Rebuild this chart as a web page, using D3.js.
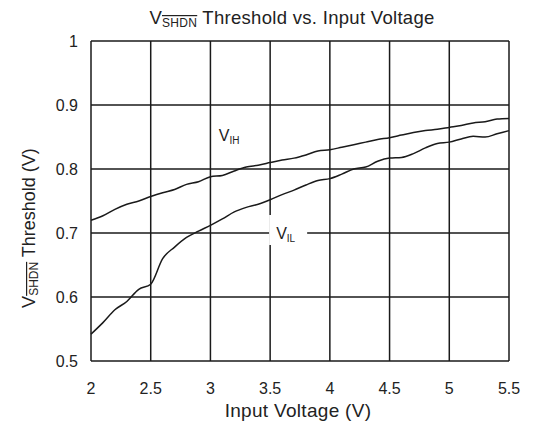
<!DOCTYPE html>
<html>
<head>
<meta charset="utf-8">
<script src="https://cdn.jsdelivr.net/npm/d3@7"></script>
<style>
  body { margin: 0; background: #fff; }
  svg text { font-family: "Liberation Sans", Arial, sans-serif; fill: #222; }
</style>
</head>
<body>
<svg id="chart" width="534" height="426"></svg>
<script>
"use strict";

// input voltage (V)
const voltage = [2.0, 2.1, 2.2, 2.3, 2.4, 2.5, 2.6, 2.7, 2.8, 2.9, 3.0, 3.1, 3.2, 3.3, 3.4, 3.5, 3.6, 3.7,
  3.8, 3.9, 4.0, 4.1, 4.2, 4.3, 4.4, 4.5, 4.6, 4.7, 4.8, 4.9, 5.0, 5.1, 5.2, 5.3, 5.4, 5.5];
// V_IH threshold
const vih = [0.720, 0.727, 0.737, 0.745, 0.750, 0.757, 0.763, 0.768, 0.776, 0.780, 0.788, 0.790,
  0.797, 0.803, 0.806, 0.810, 0.814, 0.817, 0.822, 0.828, 0.830, 0.834, 0.838, 0.842, 0.846, 0.849,
  0.853, 0.857, 0.860, 0.862, 0.865, 0.868, 0.872, 0.874, 0.878, 0.879];
// V_IL threshold
const vil = [0.542, 0.560, 0.580, 0.593, 0.612, 0.620, 0.660, 0.678, 0.693, 0.703, 0.712, 0.722,
  0.733, 0.740, 0.745, 0.752, 0.760, 0.767, 0.775, 0.782, 0.785, 0.792, 0.800, 0.803, 0.812, 0.817,
  0.818, 0.824, 0.833, 0.840, 0.842, 0.847, 0.851, 0.850, 0.855, 0.860];

const xTicks = [2, 2.5, 3, 3.5, 4, 4.5, 5, 5.5];
const yTicks = [0.5, 0.6, 0.7, 0.8, 0.9, 1];

const margin = { left: 91, top: 41, right: 25, bottom: 65 };
const width = 534, height = 426;

const svg = d3.select("#chart");
const x = d3.scaleLinear().domain([2, 5.5]).range([margin.left, width - margin.right]);
const y = d3.scaleLinear().domain([0.5, 1]).range([height - margin.bottom, margin.top]);

// grid
const grid = svg.append("g").attr("stroke", "#1a1a1a").attr("stroke-width", 1.5);
grid.selectAll("line.v").data(xTicks).enter().append("line")
  .attr("x1", d => x(d)).attr("x2", d => x(d))
  .attr("y1", y(0.5)).attr("y2", y(1));
grid.selectAll("line.h").data(yTicks).enter().append("line")
  .attr("y1", d => y(d)).attr("y2", d => y(d))
  .attr("x1", x(2)).attr("x2", x(5.5));

// tick labels
svg.append("g").selectAll("text").data(xTicks).enter().append("text")
  .attr("x", d => x(d)).attr("y", y(0.5) + 33)
  .attr("text-anchor", "middle").attr("font-size", 16)
  .text(d => d);
svg.append("g").selectAll("text").data(yTicks).enter().append("text")
  .attr("x", x(2) - 13).attr("y", d => y(d) + 6)
  .attr("text-anchor", "end").attr("font-size", 16)
  .text(d => d);

// curves
const line = d3.line().x((d, i) => x(voltage[i])).y(d => y(d)).curve(d3.curveMonotoneX);
[vih, vil].forEach(series => {
  svg.append("path").datum(series)
    .attr("fill", "none").attr("stroke", "#1a1a1a").attr("stroke-width", 1.5)
    .attr("d", line);
});

// V_IL label with white knockout
svg.append("rect")
  .attr("x", x(3.5) - 1).attr("y", y(0.7) - 18)
  .attr("width", 38).attr("height", 30).attr("fill", "#fff");
const lblIL = svg.append("text").attr("x", x(3.5) + 6).attr("y", y(0.7) + 6).attr("font-size", 16);
lblIL.append("tspan").text("V");
lblIL.append("tspan").attr("font-size", 10).attr("dy", 3).text("IL");

const lblIH = svg.append("text").attr("x", x(3.07)).attr("y", y(0.844)).attr("font-size", 16);
lblIH.append("tspan").text("V");
lblIH.append("tspan").attr("font-size", 10).attr("dy", 3).text("IH");

// title
const title = svg.append("text").attr("x", 292).attr("y", 24)
  .attr("text-anchor", "middle").attr("font-size", 18.5).attr("letter-spacing", 0.3);
title.append("tspan").text("V");
title.append("tspan").attr("font-size", 12).attr("dy", 3)
  .attr("text-decoration", "overline").text("SHDN");
title.append("tspan").attr("dy", -3).text(" Threshold vs. Input Voltage");

// x axis title
svg.append("text").attr("x", 298).attr("y", 417)
  .attr("text-anchor", "middle").attr("font-size", 19).attr("letter-spacing", 0.3)
  .text("Input Voltage (V)");

// y axis title
const yTitle = svg.append("text")
  .attr("transform", "translate(35,228) rotate(-90)")
  .attr("text-anchor", "middle").attr("font-size", 18);
yTitle.append("tspan").text("V");
yTitle.append("tspan").attr("font-size", 12).attr("dy", 3)
  .attr("text-decoration", "overline").text("SHDN");
yTitle.append("tspan").attr("dy", -3).text(" Threshold (V)");
</script>
</body>
</html>
